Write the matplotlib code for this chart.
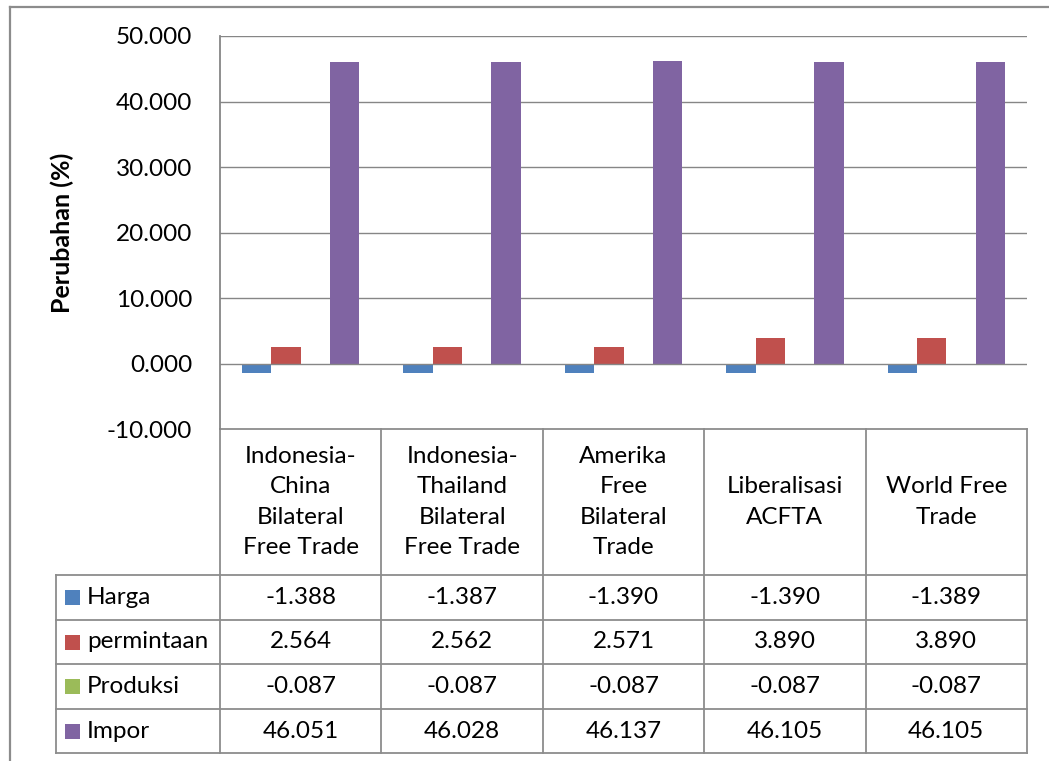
import matplotlib
matplotlib.use("Agg")
import matplotlib.pyplot as plt
import matplotlib.transforms as mtransforms
from matplotlib.lines import Line2D
from matplotlib.patches import Rectangle

categories = ["Indonesia-\nChina\nBilateral\nFree Trade",
              "Indonesia-\nThailand\nBilateral\nFree Trade",
              "Amerika\nFree\nBilateral\nTrade",
              "Liberalisasi\nACFTA",
              "World Free\nTrade"]
series_names = ["Harga", "permintaan", "Produksi", "Impor"]
harga = [-1.388, -1.387, -1.390, -1.390, -1.389]
permintaan = [2.564, 2.562, 2.571, 3.890, 3.890]
produksi = [-0.087, -0.087, -0.087, -0.087, -0.087]
impor = [46.051, 46.028, 46.137, 46.105, 46.105]
series_values = [harga, permintaan, produksi, impor]
colors = ["#4F81BD", "#C0504D", "#9BBB59", "#8064A2"]
yticks = [-10, 0, 10, 20, 30, 40, 50]

W, H = 1049, 761
plt.rcParams['font.family'] = ['Lato', 'DejaVu Sans']
FS = 17.5
fig = plt.figure(figsize=(W / 100, H / 100), dpi=100)

def fy(py):
    return 1 - py / H

def fx(px):
    return px / W

ax_left, ax_right, ax_top, ax_bot = 220, 1027, 36, 429
ax = fig.add_axes([fx(ax_left), fy(ax_bot), fx(ax_right) - fx(ax_left), fy(ax_top) - fy(ax_bot)])

n = len(categories)
bw = 1 / (4 + 1.5)
xs = list(range(n))
for k, (vals, c) in enumerate(zip(series_values, colors)):
    ax.bar([x + (k - 1.5) * bw for x in xs], vals, width=bw, color=c, zorder=3, linewidth=0)

ax.set_xlim(-0.5, n - 0.5)
ax.set_ylim(-10, 50)
ax.set_yticks(yticks)
ax.set_yticklabels([f"{v:.3f}" for v in yticks], fontsize=FS)
ax.tick_params(axis='y', length=0, pad=20)
ax.set_xticks([])
gray = "#868686"
for v in yticks:
    if v != -10:
        ax.axhline(v, color=gray, linewidth=1.0, zorder=1 if v != 0 else 4)
for s in ["top", "right", "bottom"]:
    ax.spines[s].set_visible(False)
ax.spines["left"].set_color(gray)
ax.spines["left"].set_linewidth(1.3)
ax.set_ylabel("Perubahan (%)", fontsize=18, fontweight='bold')
ax.yaxis.set_label_coords((74 - ax_left) / (ax_right - ax_left), 0.5)

# data table
tr = mtransforms.blended_transform_factory(ax.transData, fig.transFigure)
tcol = "#8C8C8C"
row_y = [575, 620, 664, 709, 753]
leg_left = 56

ax.add_line(Line2D([-0.5, n - 0.5], [fy(ax_bot), fy(ax_bot)], transform=tr, color=tcol, lw=1.3, clip_on=False))
for i in range(n + 1):
    xv = i - 0.5
    ax.add_line(Line2D([xv, xv], [fy(ax_bot), fy(row_y[-1])], transform=tr, color=tcol, lw=1.3, clip_on=False))
fig.add_artist(Line2D([fx(leg_left), fx(leg_left)], [fy(row_y[0]), fy(row_y[-1])], color=tcol, lw=1.3))
x_end = ax.transData.transform((n - 0.5, 0))[0] / W
for py in row_y:
    fig.add_artist(Line2D([fx(leg_left), x_end], [fy(py), fy(py)], color=tcol, lw=1.3))

for i, cat in enumerate(categories):
    ax.text(i, fy((ax_bot + row_y[0]) / 2), cat, transform=tr, ha='center', va='center',
            fontsize=FS, linespacing=1.55)

for r, (name, vals, c) in enumerate(zip(series_names, series_values, colors)):
    yc = (row_y[r] + row_y[r + 1]) / 2
    fig.add_artist(Rectangle((fx(65), fy(yc + 7.5)), fx(15), 15 / H, color=c, linewidth=0))
    fig.text(fx(87), fy(yc), name, ha='left', va='center', fontsize=FS)
    for i, v in enumerate(vals):
        ax.text(i, fy(yc), f"{v:.3f}", transform=tr, ha='center', va='center', fontsize=FS)

fig.add_artist(Line2D([fx(10), fx(10)], [fy(7), 0], color="#8C8C8C", lw=1.6))
fig.add_artist(Line2D([fx(10), 1], [fy(7), fy(7)], color="#8C8C8C", lw=1.6))

fig.savefig("out.png", dpi=100)
